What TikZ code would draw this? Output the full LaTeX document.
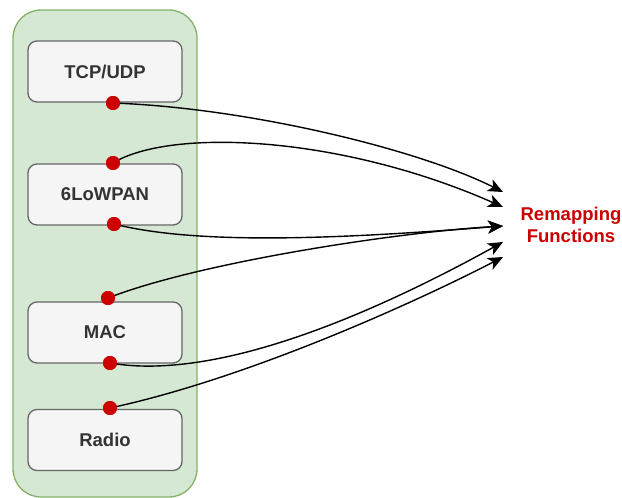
\documentclass[tikz,border=0pt]{standalone}
\usepackage{fontspec}
\setmainfont{Liberation Sans}
\usetikzlibrary{arrows.meta}
\definecolor{grpfill}{HTML}{D5E8D4}
\definecolor{grpline}{HTML}{82B366}
\definecolor{boxfill}{HTML}{F5F5F5}
\definecolor{boxline}{HTML}{666666}
\definecolor{boxtext}{HTML}{333333}
\definecolor{dotred}{HTML}{CC0000}
\tikzset{
  layer/.style={draw=boxline, fill=boxfill, line width=1.3pt, rounded corners=9pt,
    minimum width=154pt, minimum height=61pt, inner sep=0pt,
    text=boxtext, font=\fontsize{18.5}{21}\selectfont\bfseries},
  port/.style={circle, fill=dotred, draw=none, minimum size=14pt, inner sep=0pt},
  link/.style={line width=1.4pt, -{Stealth[length=15pt, width=13pt, inset=4pt]}},
}
\begin{document}
\begin{tikzpicture}[x=1pt, y=-1pt]
  \useasboundingbox (0,0) rectangle (622,498);
  % protocol stack container
  \draw[fill=grpfill, draw=grpline, line width=1.3pt, rounded corners=28pt]
    (13,10) rectangle (197,497);
  % stack layers
  \node[layer] (tcp)    at (105,71.5)  {TCP/UDP};
  \node[layer] (lowpan) at (105,194.5) {6LoWPAN};
  \node[layer] (mac)    at (105,332.5) {MAC};
  \node[layer] (radio)  at (105,440)   {Radio};
  % connection points
  \node[port] (p1) at (113,103) {};
  \node[port] (p2) at (113,163) {};
  \node[port] (p3) at (114,224) {};
  \node[port] (p4) at (108,298) {};
  \node[port] (p5) at (110,363) {};
  \node[port] (p6) at (110,408) {};
  % target label
  \node[text=dotred, font=\fontsize{18.5}{22}\selectfont\bfseries, align=center]
    (remap) at (571,225) {Remapping\\Functions};
  \coordinate (t1) at (503,192);
  \coordinate (t2) at (503,207);
  \coordinate (t3) at (503,226);
  \coordinate (t4) at (503,242);
  \coordinate (t5) at (503,257);
  % remapping links
  \draw[link] (p1.center) .. controls (250,108) and (420,150) .. (t1);
  \draw[link] (p2.center) .. controls (170,128) and (340,135) .. (t2);
  \draw[link] (p3.center) .. controls (200,246) and (350,238) .. (t3);
  \draw[link] (p4.center) .. controls (200,262) and (400,232) .. (t3);
  \draw[link] (p5.center) .. controls (220,382) and (380,310) .. (t4);
  \draw[link] (p6.center) .. controls (250,378) and (420,300) .. (t5);
  % ports drawn above the links
  \foreach \p in {p1,p2,p3,p4,p5,p6}
    \fill[dotred] (\p) circle (7pt);
\end{tikzpicture}
\end{document}
